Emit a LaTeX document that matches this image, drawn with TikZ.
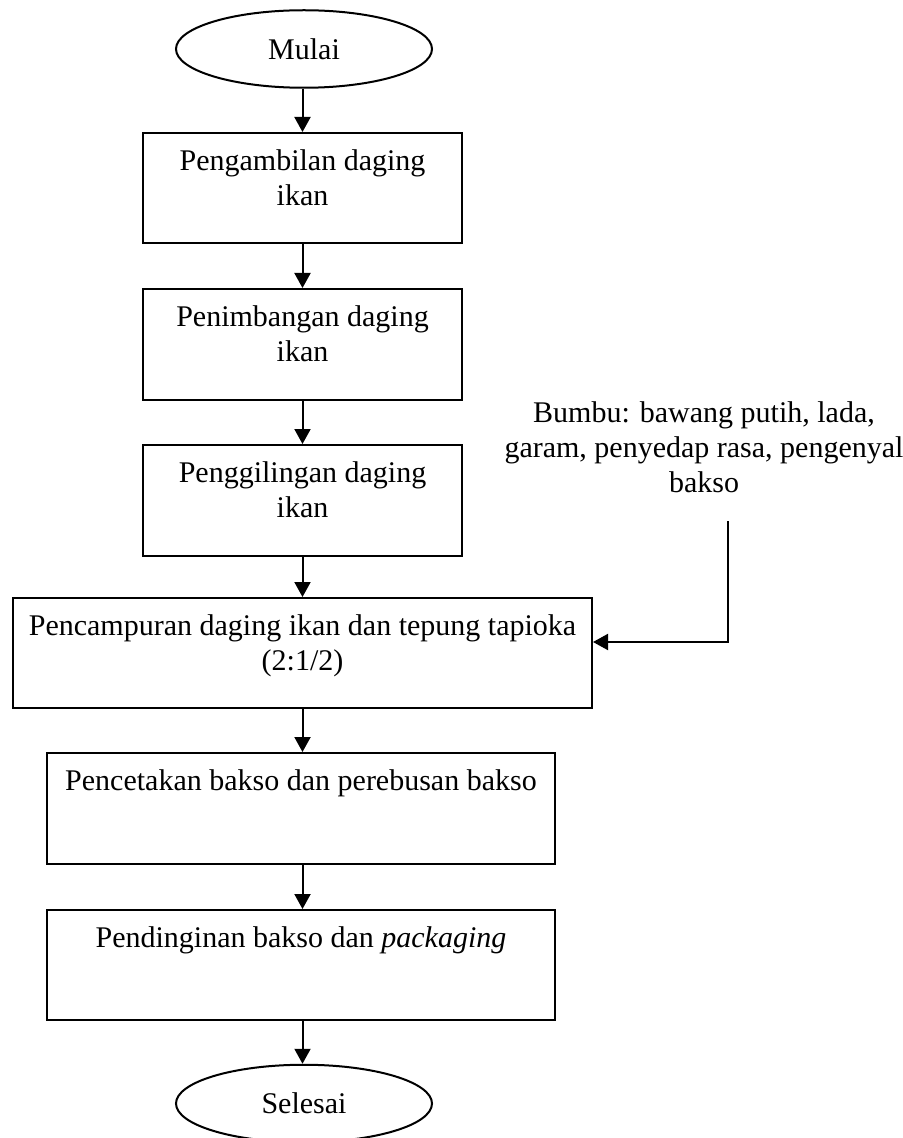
\documentclass[tikz,border=0pt]{standalone}
\usepackage{fontspec}
\setmainfont{Liberation Serif}
\usetikzlibrary{shapes.geometric, arrows.meta, positioning, calc}

\tikzset{
  kotak/.style={draw, line width=0.8pt, inner sep=0pt},
  oval/.style={draw, ellipse, line width=0.8pt, inner sep=0pt, minimum width=102.4pt, minimum height=31pt},
  isi/.style={align=center, inner sep=0pt, anchor=north},
  panah/.style={-{Triangle[length=6pt,width=6.4pt]}, line width=0.8pt}
}

\begin{document}
\begin{tikzpicture}[x=0.4pt, y=-0.4pt, font=\fontsize{12}{14}\selectfont]
            \useasboundingbox (0,0) rectangle (902,1138);

            \node[oval] (mulai) at (304,49) {Mulai};

            \node[kotak, minimum width=127.6pt, minimum height=44pt] (ambil) at (302.5,188) {};
            \node[isi] (ambil-teks) at ([yshift=-7pt]ambil.north) {Pengambilan daging\\ikan};

            \node[kotak, minimum width=127.6pt, minimum height=44.4pt] (timbang) at (302.5,344.5) {};
            \node[isi] (timbang-teks) at ([yshift=-7pt]timbang.north) {Penimbangan daging\\ikan};

            \node[kotak, minimum width=127.6pt, minimum height=44.4pt] (giling) at (302.5,500.5) {};
            \node[isi] (giling-teks) at ([yshift=-7pt]giling.north) {Penggilingan daging\\ikan};

            \node[kotak, minimum width=231.6pt, minimum height=44pt] (campur) at (302.5,653) {};
            \node[isi] (campur-teks) at ([yshift=-7pt]campur.north) {Pencampuran daging ikan dan tepung tapioka\\(2:1/2)};

            \node[kotak, minimum width=203.2pt, minimum height=44.4pt] (cetak) at (301,808.5) {};
            \node[isi] (cetak-teks) at ([yshift=-7pt]cetak.north) {Pencetakan bakso dan perebusan bakso};

            \node[kotak, minimum width=203.2pt, minimum height=44pt] (dingin) at (301,965) {};
            \node[isi] (dingin-teks) at ([yshift=-7pt]dingin.north) {Pendinginan bakso dan \textit{packaging}};

            \node[oval] (selesai) at (304,1103.5) {Selesai};

            \node[align=center, inner sep=0pt] (bumbu) at (704,447) {Bumbu: bawang putih, lada,\\garam, penyedap rasa, pengenyal\\bakso};
            \coordinate (bumbu-ujung) at (728,521);

            \draw[panah] (mulai.south -| ambil.north) -- (ambil.north);
            \draw[panah] (ambil.south) -- (timbang.north);
            \draw[panah] (timbang.south) -- (giling.north);
            \draw[panah] (giling.south) -- (campur.north);
            \draw[panah] (campur.south) -- (campur.south |- cetak.north);
            \draw[panah] (campur.south |- cetak.south) -- (campur.south |- dingin.north);
            \draw[panah] (campur.south |- dingin.south) -- (campur.south |- selesai.north);
            \draw[panah] (bumbu-ujung) |- ([yshift=4.4pt]campur.east);
        \end{tikzpicture}
\end{document}
